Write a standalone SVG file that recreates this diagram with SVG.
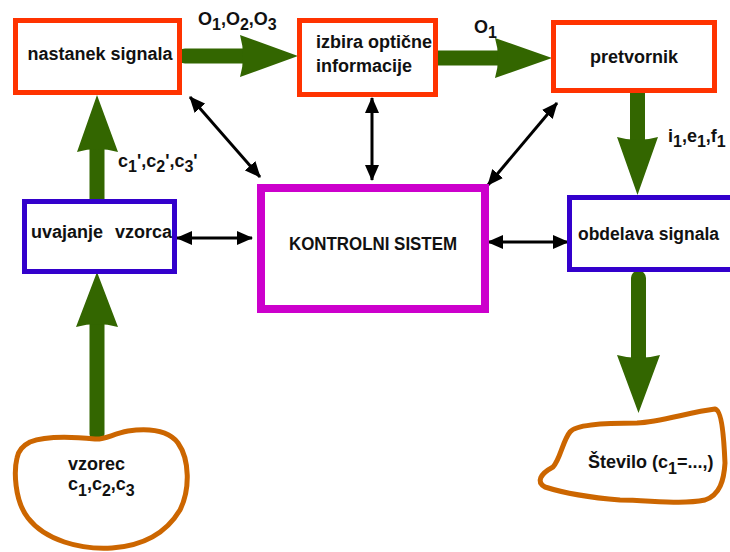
<svg xmlns="http://www.w3.org/2000/svg" width="730" height="552" viewBox="0 0 730 552">
  <defs>
    <style>
      text { font-family: "Liberation Sans", Arial, sans-serif; font-weight: bold; font-size: 18px; fill: #111; }
      .sub { font-size: 16px; }
      .red { fill: #fff; stroke: #ff3300; stroke-width: 5; }
      .blue { fill: #fff; stroke: #3300cc; stroke-width: 5; }
      .mag { fill: #fff; stroke: #cc00cc; stroke-width: 8; }
      .blob { fill: #fff; stroke: #cc6600; stroke-width: 5; stroke-linejoin: round; }
      .shaft { stroke: #336600; stroke-width: 15; stroke-linecap: round; fill: none; }
      .head { fill: #336600; }
      .ctl { stroke: #000; stroke-width: 3; fill: none; marker-start: url(#tip); marker-end: url(#tip); }
    </style>
    <marker id="tip" viewBox="0 0 16 14" refX="15" refY="7" markerWidth="16" markerHeight="14" markerUnits="userSpaceOnUse" orient="auto-start-reverse">
      <path d="M0,0 L16,7 L0,14 Z" fill="#000"/>
    </marker>
  </defs>

  <rect width="730" height="552" fill="#fff"/>

  <!-- signal-flow arrows (green) and control links (black) -->
  <g id="connectors">
    <line class="shaft" x1="185" y1="56" x2="245" y2="56"/>
    <path class="head" d="M240,35 Q246,56 240,77 L298,56 Z"/>

    <line class="shaft" x1="437" y1="58" x2="500" y2="58"/>
    <path class="head" d="M495,38 Q501,58 495,78 L552,58 Z"/>

    <line class="shaft" x1="637.5" y1="93" x2="637.5" y2="142"/>
    <path class="head" d="M617,137 Q637.5,143 658,137 L637.5,195 Z"/>

    <line class="shaft" x1="97" y1="205" x2="97" y2="147"/>
    <path class="head" d="M77,152 Q97,146 118,152 L97,95 Z"/>

    <line class="shaft" x1="97" y1="434" x2="97" y2="322"/>
    <path class="head" d="M76,327 Q97,321 118,327 L97,272 Z"/>

    <line class="shaft" x1="638.5" y1="278" x2="638.5" y2="360"/>
    <path class="head" d="M617,355 Q638.5,361 660,355 L638.5,413 Z"/>

    <line class="ctl" x1="190" y1="97" x2="260" y2="177"/>
    <line class="ctl" x1="372" y1="98" x2="372" y2="180"/>
    <line class="ctl" x1="557" y1="103" x2="488" y2="185"/>
    <line class="ctl" x1="177" y1="238" x2="252" y2="238"/>
    <line class="ctl" x1="488" y1="242" x2="568" y2="242"/>
  </g>

  <g id="nastanek">
    <rect class="red" x="15.5" y="20.5" width="164" height="72"/>
    <text x="100" y="60" text-anchor="middle">nastanek signala</text>
  </g>

  <g id="izbira">
    <rect class="red" x="299.5" y="20.5" width="136" height="74"/>
    <text x="316" y="48">izbira optične</text>
    <text x="316" y="72">informacije</text>
  </g>

  <g id="pretvornik">
    <rect class="red" x="553.5" y="22.5" width="161" height="68"/>
    <text x="634" y="63" text-anchor="middle">pretvornik</text>
  </g>

  <g id="uvajanje">
    <rect class="blue" x="24.5" y="201.5" width="150" height="70"/>
    <text x="31" y="238">uvajanje</text>
    <text x="115" y="238">vzorca</text>
  </g>

  <g id="kontrolni">
    <rect class="mag" x="261" y="188" width="224" height="121"/>
    <text x="373" y="250" text-anchor="middle" textLength="168" lengthAdjust="spacingAndGlyphs">KONTROLNI SISTEM</text>
  </g>

  <g id="obdelava">
    <rect class="blue" x="569.5" y="197.5" width="200" height="72"/>
    <text x="578" y="240" textLength="141" lengthAdjust="spacingAndGlyphs">obdelava signala</text>
  </g>

  <g id="vzorec">
    <path class="blob" d="M17,458 C14,470 14,500 28,518 C45,540 80,550 112,548 C140,546 165,535 180,510 C190,490 190,460 178,443 C168,430 150,428 128,431 C112,434 105,440 95,439 C75,437 45,436 30,442 C22,446 18,452 17,458 Z"/>
    <text x="68" y="470">vzorec</text>
    <text x="68" y="490">c<tspan class="sub" dy="6">1</tspan><tspan dy="-6">,c</tspan><tspan class="sub" dy="6">2</tspan><tspan dy="-6">,c</tspan><tspan class="sub" dy="6">3</tspan></text>
  </g>

  <g id="stevilo">
    <path class="blob" d="M570,432 C575,425 600,423 637,423 C660,422 690,412 715,409 C722,410 724,440 725,463 C724,480 720,495 705,500 C680,505 650,500 620,500 C595,498 570,495 545,487 C536,482 540,474 553,467 C560,460 563,440 570,432 Z"/>
    <text x="588" y="468">Število (c<tspan class="sub" dy="6">1</tspan><tspan dy="-6">=...,)</tspan></text>
  </g>

  <!-- flow labels -->
  <g id="labels">
    <text x="198" y="25">O<tspan class="sub" dy="5">1</tspan><tspan dy="-5">,O</tspan><tspan class="sub" dy="5">2</tspan><tspan dy="-5">,O</tspan><tspan class="sub" dy="5">3</tspan></text>
    <text x="474" y="33">O<tspan class="sub" dy="5">1</tspan></text>
    <text x="668" y="142">i<tspan class="sub" dy="5">1</tspan><tspan dy="-5">,e</tspan><tspan class="sub" dy="5">1</tspan><tspan dy="-5">,f</tspan><tspan class="sub" dy="5">1</tspan></text>
    <text x="118" y="167">c<tspan class="sub" dy="5">1</tspan><tspan dy="-5">',c</tspan><tspan class="sub" dy="5">2</tspan><tspan dy="-5">',c</tspan><tspan class="sub" dy="5">3</tspan><tspan dy="-5">'</tspan></text>
  </g>
</svg>
